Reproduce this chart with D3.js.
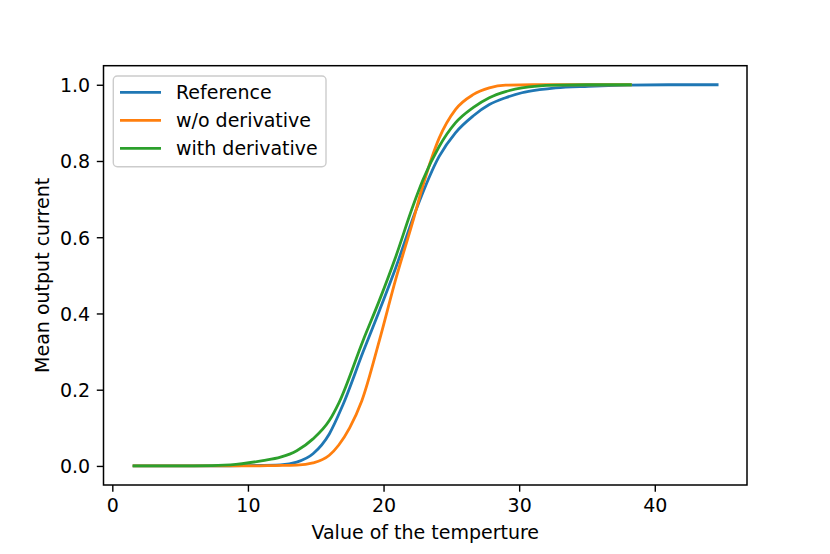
<!DOCTYPE html>
<html>
    <head>
        <title> Mean output current vs temperature </title>
        <script type="text/javascript" src="https://d3js.org/d3.v7.min.js"></script>
        <style>
            body { margin: 0; background: #ffffff; }
            text { font-family: "DejaVu Sans", sans-serif; }
        </style>
    </head>

    <body>
        <div id="my_chart"></div>
    </body>

    <script type="text/javascript">
        // Values, one pair of arrays per curve
        var ref_x = [1.5, 8, 10, 12.4, 13.6, 14.8, 16, 17, 18.5, 19.7, 20.9, 22.4, 24.1, 25.3, 26.6, 27.8, 29, 30.2, 31.5, 32.7, 35.1, 38, 41, 44.7];
        var ref_y = [0, 0, 0.001, 0.003, 0.01, 0.032, 0.084, 0.16, 0.30, 0.408, 0.52, 0.672, 0.812, 0.874, 0.918, 0.948, 0.966, 0.979, 0.987, 0.992, 0.996, 0.999, 1.0, 1.0];

        var wo_x = [1.5, 10, 12, 13.6, 14.8, 16, 16.7, 17.5, 18.4, 19.7, 20.9, 22.15, 22.9, 24.1, 25.3, 26.6, 27.8, 29, 31, 38.3];
        var wo_y = [0, 0, 0.001, 0.002, 0.008, 0.028, 0.055, 0.10, 0.171, 0.33, 0.49, 0.64, 0.735, 0.86, 0.935, 0.974, 0.992, 0.999, 1.0, 1.0];

        var with_x = [1.5, 6, 8.7, 11.1, 12.4, 13.6, 14.8, 16, 16.7, 18.5, 19.7, 20.9, 22.15, 22.9, 24.1, 25.3, 26.6, 27.8, 29, 30.2, 32.7, 35, 38.3];
        var with_y = [0, 0, 0.003, 0.014, 0.023, 0.04, 0.071, 0.119, 0.165, 0.33, 0.435, 0.549, 0.68, 0.75, 0.838, 0.90, 0.94, 0.966, 0.982, 0.992, 0.999, 1.0, 1.0];

        var series_names = ['Reference', 'w/o derivative', 'with derivative'];
        var series_colors = ['#1f77b4', '#ff7f0e', '#2ca02c'];
        var x_ticks = [0, 10, 20, 30, 40];
        var y_ticks = [0.0, 0.2, 0.4, 0.6, 0.8, 1.0];

        // Size of the whole picture and the plot area inside it
        var svg_size = {width: 830, height: 554};
        var plot = {left: 103.5, right: 747, top: 65.7, bottom: 485};
        var font_size = 19;
        var tick_len = 6.7;

        var svg = d3.select('#my_chart')
                    .append('svg')
                    .attr('width', svg_size.width)
                    .attr('height', svg_size.height);

        var x_scale = d3.scaleLinear()
                        .domain([-0.65, 46.8])
                        .range([plot.left, plot.right]);
        var y_scale = d3.scaleLinear()
                        .domain([-0.05, 1.05])
                        .range([plot.bottom, plot.top]);

        // Bottom axis
        var x_axis = svg.append('g')
                        .attr('transform', 'translate(0,' + plot.bottom + ')')
                        .call(d3.axisBottom(x_scale)
                                .tickValues(x_ticks)
                                .tickFormat(d3.format('d'))
                                .tickSize(tick_len)
                                .tickPadding(6.7)
                                .tickSizeOuter(0));
        // Left axis
        var y_axis = svg.append('g')
                        .attr('transform', 'translate(' + plot.left + ',0)')
                        .call(d3.axisLeft(y_scale)
                                .tickValues(y_ticks)
                                .tickFormat(d3.format('.1f'))
                                .tickSize(tick_len)
                                .tickPadding(6.7)
                                .tickSizeOuter(0));

        [x_axis, y_axis].forEach(function(ax){
            ax.select('.domain').remove();
            ax.selectAll('.tick line').attr('stroke', '#000').attr('stroke-width', 1.4);
            ax.selectAll('.tick text')
              .attr('fill', '#000')
              .style('font-family', '"DejaVu Sans", sans-serif')
              .style('font-size', font_size + 'px');
        });
        y_axis.selectAll('.tick text').attr('dy', '0.36em');

        // Curves
        var curves = [
            {x: ref_x, y: ref_y},
            {x: wo_x, y: wo_y},
            {x: with_x, y: with_y}
        ];
        var line = d3.line()
                     .x(function(d){ return x_scale(d[0]); })
                     .y(function(d){ return y_scale(d[1]); })
                     .curve(d3.curveMonotoneX);

        curves.forEach(function(c, i){
            svg.append('path')
               .datum(d3.zip(c.x, c.y))
               .attr('d', line)
               .attr('fill', 'none')
               .attr('stroke', series_colors[i])
               .attr('stroke-width', 2.8)
               .attr('stroke-linejoin', 'round');
        });

        // Frame around the plot area
        svg.append('rect')
           .attr('x', plot.left)
           .attr('y', plot.top)
           .attr('width', plot.right - plot.left)
           .attr('height', plot.bottom - plot.top)
           .attr('fill', 'none')
           .attr('stroke', '#000')
           .attr('stroke-width', 1.5);

        // Axis labels
        svg.append('text')
           .attr('x', (plot.left + plot.right) / 2)
           .attr('y', 539)
           .attr('text-anchor', 'middle')
           .style('font-size', font_size + 'px')
           .text('Value of the temperture');

        svg.append('text')
           .attr('transform', 'translate(49,' + (plot.top + plot.bottom) / 2 + ') rotate(-90)')
           .attr('text-anchor', 'middle')
           .style('font-size', font_size + 'px')
           .text('Mean output current');

        // Legend in the upper left corner
        var legend = svg.append('g');
        legend.append('rect')
              .attr('x', 113.3)
              .attr('y', 76)
              .attr('width', 212.7)
              .attr('height', 90.7)
              .attr('rx', 4)
              .attr('fill', '#ffffff')
              .attr('fill-opacity', 0.8)
              .attr('stroke', '#cccccc')
              .attr('stroke-width', 1.4);

        var rows = legend.selectAll('g.row')
                         .data(series_names)
                         .enter()
                         .append('g')
                         .attr('transform', function(d, i){ return 'translate(0,' + (92.3 + i * 28) + ')'; });
        rows.append('line')
            .attr('x1', 120)
            .attr('x2', 161)
            .attr('stroke', function(d, i){ return series_colors[i]; })
            .attr('stroke-width', 2.8);
        rows.append('text')
            .attr('x', 176)
            .attr('dy', '0.36em')
            .style('font-size', font_size + 'px')
            .text(function(d){ return d; });
    </script>
</html>
